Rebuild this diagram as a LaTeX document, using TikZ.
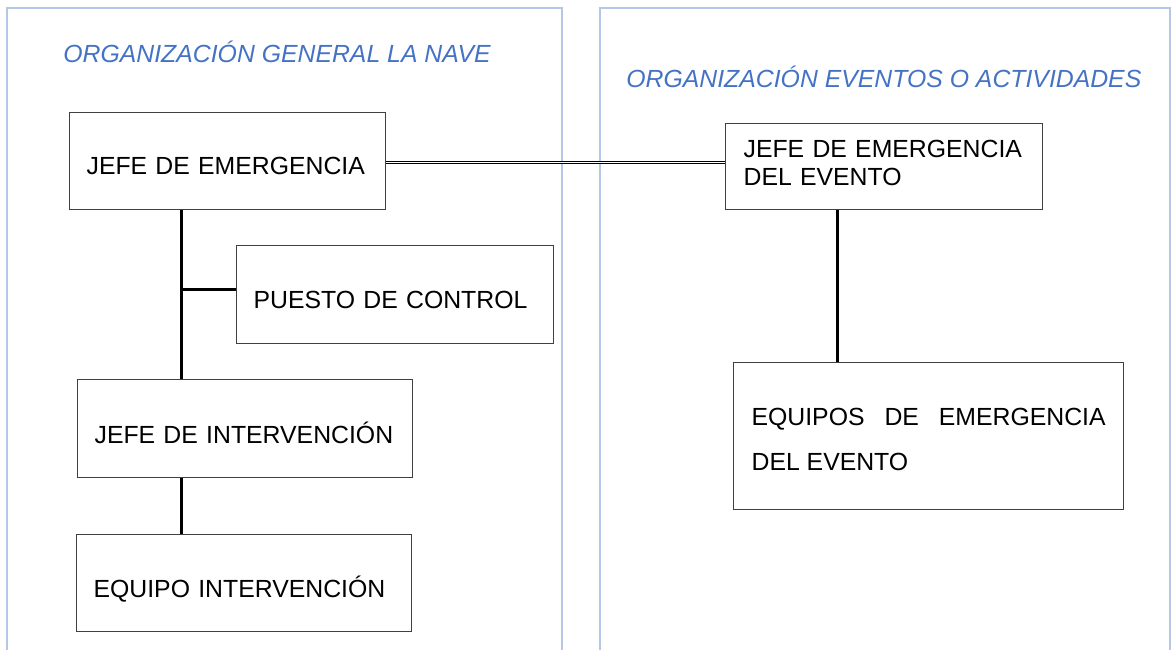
\documentclass[tikz,border=0pt]{standalone}
\usepackage{fontspec}
\setmainfont{Liberation Sans}
\usetikzlibrary{calc}
\definecolor{panelblue}{RGB}{180,199,231}
\definecolor{titleblue}{RGB}{68,114,196}
\definecolor{boxline}{RGB}{64,64,64}
\tolerance=10000

\begin{document}
\begin{tikzpicture}[x=0.5pt, y=-0.5pt, font=\fontsize{12.4}{14}\selectfont,
    panel/.style={draw=panelblue, line width=1pt},
    heading/.style={anchor=base west, inner sep=0pt, text=titleblue, font=\fontsize{12.4}{14}\selectfont\itshape},
    box/.style={draw=boxline, line width=0.6pt, anchor=north west, inner xsep=8.5pt, inner ysep=0pt, align=left, text depth=0pt},
    conn/.style={line width=1.5pt},
    dbl/.style={double, double distance=0.8pt, line width=0.5pt}]

    \useasboundingbox (0,0) rectangle (1172,650);

    % Panels
    \draw[panel] (7,650) -- (7,8) -- (562,8) -- (562,650);
    \draw[panel] (600,650) -- (600,8) -- (1170,8) -- (1170,650);

    % Headings
    \node[heading] (hgeneral) at (63,62) {ORGANIZACIÓN GENERAL LA NAVE};
    \node[heading] (heventos) at (626,87) {ORGANIZACIÓN EVENTOS O ACTIVIDADES};

    % General organisation
    \node[box, text width=141pt, minimum height=48.5pt, text height=12.9pt] (jefe) at (69,112) {JEFE DE EMERGENCIA};
    \node[box, text width=141.5pt, minimum height=49pt, text height=13.4pt] (puesto) at (236,245) {PUESTO DE CONTROL};
    \node[box, text width=150.5pt, minimum height=49pt, text height=14.9pt] (jinterv) at (77,379) {JEFE DE INTERVENCIÓN};
    \node[box, text width=150.5pt, minimum height=48.5pt, text height=13.9pt] (equipo) at (76,534) {EQUIPO INTERVENCIÓN};

    % Event organisation
    \node[box, inner xsep=9pt, text width=140.5pt, minimum height=43pt, text height=5pt, text depth=14.1pt] (evento) at (725,123) {JEFE DE EMERGENCIA\\DEL EVENTO};
    \node[box, inner xsep=9pt, text width=177pt, minimum height=73.5pt, align=justify, font=\fontsize{12.4}{22.5}\selectfont, text height=6pt, text depth=16.6pt] (equipos) at (733,362) {EQUIPOS DE EMERGENCIA DEL EVENTO};

    % Connectors
    \coordinate (trunk) at (181,0);
    \coordinate (stem) at (837,0);
    \draw[conn] (jefe.south -| trunk) -- (jinterv.north -| trunk);
    \draw[conn] ([yshift=2.5pt]puesto.west) -- ([yshift=2.5pt]puesto.west -| trunk);
    \draw[conn] (jinterv.south -| trunk) -- (equipo.north -| trunk);
    \draw[conn] (evento.south -| stem) -- (equipos.north -| stem);
    \draw[dbl] ([yshift=-0.75pt]jefe.east) -- ([yshift=-0.75pt]jefe.east -| evento.west);

\end{tikzpicture}
\end{document}
